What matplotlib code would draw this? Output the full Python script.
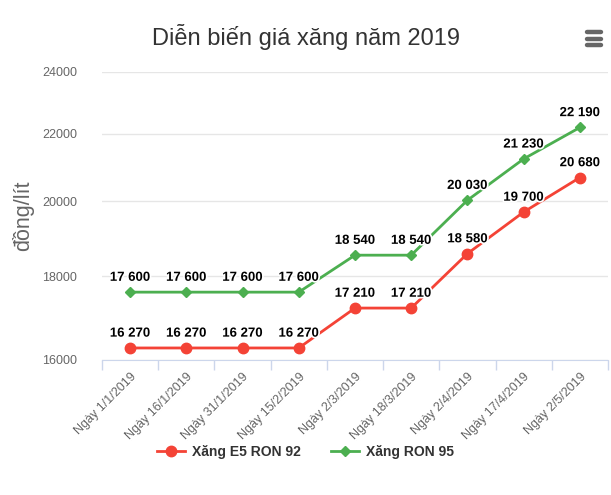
import matplotlib
matplotlib.use("Agg")
import matplotlib.pyplot as plt
import matplotlib.patheffects as pe
from matplotlib.ticker import FixedLocator, NullLocator, NullFormatter
from matplotlib.lines import Line2D

plt.rcParams['font.family'] = ['Liberation Sans', 'DejaVu Sans']

# data
dates = ["Ngày 1/1/2019", "Ngày 16/1/2019", "Ngày 31/1/2019", "Ngày 15/2/2019",
         "Ngày 2/3/2019", "Ngày 18/3/2019", "Ngày 2/4/2019", "Ngày 17/4/2019",
         "Ngày 2/5/2019"]
e5_ron92 = [16270, 16270, 16270, 16270, 17210, 17210, 18580, 19700, 20680]
ron95 = [17600, 17600, 17600, 17600, 18540, 18540, 20030, 21230, 22190]
y_ticks = [16000, 18000, 20000, 22000, 24000]

red = '#f44336'
green = '#4caf50'

fig = plt.figure(figsize=(6.11, 4.95), dpi=100)
ax = fig.add_axes([0.167, 0.273, 0.828, 0.582])

x = list(range(len(dates)))
ax.plot(x, e5_ron92, color=red, lw=2, marker='o', ms=7.5, zorder=3)
ax.plot(x, ron95, color=green, lw=2, marker='D', ms=5, zorder=3)

def fmt(v):
    return f"{v:,}".replace(",", " ")

for series in (e5_ron92, ron95):
    for xi, v in zip(x, series):
        ax.annotate(fmt(v), (xi, v), xytext=(0, 6), textcoords='offset points',
                    ha='center', va='bottom', fontsize=9.5, fontweight='bold',
                    color='black', zorder=4,
                    path_effects=[pe.withStroke(linewidth=2.5, foreground='white')])

ax.set_yscale('log')
ax.set_ylim(16000, 24000)
ax.yaxis.set_major_locator(FixedLocator(y_ticks))
ax.yaxis.set_minor_locator(NullLocator())
ax.yaxis.set_minor_formatter(NullFormatter())
ax.set_yticklabels([str(t) for t in y_ticks])
ax.tick_params(axis='y', length=0, pad=18, labelsize=9, labelcolor='#666666')
ax.grid(axis='y', color='#e6e6e6', lw=1)
ax.set_axisbelow(True)

ax.set_xlim(-0.5, len(dates) - 0.5)
ax.set_xticks([i - 0.5 for i in range(len(dates) + 1)])
ax.set_xticklabels([])
ax.set_xticks(x, minor=True)
ax.set_xticklabels(dates, minor=True, rotation=45, ha='right',
                   rotation_mode='anchor', fontsize=9, color='#666666')
ax.tick_params(axis='x', which='major', length=7, color='#ccd6eb', width=1)
ax.tick_params(axis='x', which='minor', length=0, pad=8)

for s in ('top', 'right', 'left'):
    ax.spines[s].set_visible(False)
ax.spines['bottom'].set_color('#ccd6eb')

ax.set_ylabel('đồng/lít', fontsize=15.5, color='#666666', labelpad=6)

fig.text(0.5, 0.925, 'Diễn biến giá xăng năm 2019', ha='center', va='center',
         fontsize=17, color='#333333')

# menu icon
for yy in (0.935, 0.922, 0.909):
    fig.add_artist(Line2D([0.960, 0.984], [yy, yy], color='#666666', lw=3.2,
                          solid_capstyle='round'))

handles = [Line2D([], [], color=red, lw=2, marker='o', ms=7.5),
           Line2D([], [], color=green, lw=2, marker='D', ms=5)]
fig.legend(handles, ['Xăng E5 RON 92', 'Xăng RON 95'], loc='center',
           bbox_to_anchor=(0.5, 0.087), ncol=2, frameon=False,
           prop={'weight': 'bold', 'size': 10}, labelcolor='#333333',
           handlelength=2, columnspacing=2.2, handletextpad=0.5)

fig.savefig('out.png', dpi=100)
